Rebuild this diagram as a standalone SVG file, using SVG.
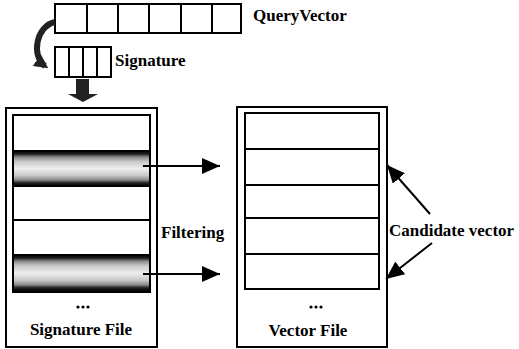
<svg xmlns="http://www.w3.org/2000/svg" width="519" height="349" viewBox="0 0 519 349">
<defs>
<style>
.box{fill:#fff;stroke:#000;stroke-width:2}
.ln{stroke:#000;stroke-width:2;fill:none}
.t{font-family:'Liberation Serif','DejaVu Serif','Times New Roman',serif;font-weight:bold;font-size:17px;fill:#000}
.dot{fill:#000}
</style>
<linearGradient id="shade" x1="0" y1="0" x2="0" y2="1">
<stop offset="0" stop-color="#000"/>
<stop offset="0.09" stop-color="#222"/>
<stop offset="0.17" stop-color="#888"/>
<stop offset="0.3" stop-color="#c8c8c8"/>
<stop offset="0.5" stop-color="#eeeeee"/>
<stop offset="0.7" stop-color="#c8c8c8"/>
<stop offset="0.83" stop-color="#888"/>
<stop offset="0.91" stop-color="#222"/>
<stop offset="1" stop-color="#000"/>
</linearGradient>
<marker id="ah" viewBox="0 0 18 16" refX="18" refY="8" markerWidth="18" markerHeight="16" markerUnits="userSpaceOnUse" orient="auto">
<path d="M0,0 L18,8 L0,16 z" fill="#000"/>
</marker>
<marker id="ahc" viewBox="0 0 14 14" refX="10" refY="7" markerWidth="14" markerHeight="14" markerUnits="userSpaceOnUse" orient="auto">
<path d="M0,0 L14,7 L0,14 z" fill="#222"/>
</marker>
</defs>
<g id="query-vector">
<rect class="box" x="55" y="4" width="186" height="29"/>
<path class="ln" d="M87 4V33M118 4V33M149 4V33M181 4V33M212 4V33"/>
<text class="t" x="253" y="21">QueryVector</text>
</g>
<g id="signature">
<rect class="box" x="55" y="47" width="56" height="30"/>
<path class="ln" d="M69 47V77M83 47V77M97 47V77"/>
<text class="t" x="115" y="66">Signature</text>
</g>
<g id="signature-file">
<rect class="box" x="6" y="108" width="151" height="239"/>
<rect class="box" x="13" y="115" width="137" height="177"/>
<rect x="14" y="151" width="135" height="35" fill="url(#shade)"/>
<rect x="14" y="255" width="135" height="36" fill="url(#shade)"/>
<path class="ln" d="M13 151H150M13 186H150M13 220H150M13 255H150"/>
<circle class="dot" cx="78" cy="307" r="1.6"/>
<circle class="dot" cx="83" cy="307" r="1.6"/>
<circle class="dot" cx="88" cy="307" r="1.6"/>
<text class="t" x="81" y="335" text-anchor="middle">Signature File</text>
</g>
<g id="vector-file">
<rect class="box" x="237" y="107" width="150" height="240"/>
<rect class="box" x="245" y="113" width="134" height="176"/>
<path class="ln" d="M245 149H379M245 185H379M245 218H379M245 254H379"/>
<circle class="dot" cx="311" cy="307" r="1.6"/>
<circle class="dot" cx="316" cy="307" r="1.6"/>
<circle class="dot" cx="321" cy="307" r="1.6"/>
<text class="t" x="308" y="336" text-anchor="middle">Vector File</text>
</g>
<g id="labels">
<text class="t" x="161" y="238">Filtering</text>
<text class="t" x="389" y="236">Candidate vector</text>
</g>
<g id="connectors">
<path d="M55 22 C36 26, 31 56, 45 66" stroke="#222" stroke-width="6" fill="none" marker-end="url(#ahc)"/>
<polygon points="76,79 89,79 89,94 98,94 83,102 68,94 76,94" fill="#222"/>
<line class="ln" x1="143" y1="166" x2="220" y2="166" marker-end="url(#ah)"/>
<line class="ln" x1="143" y1="274" x2="220" y2="274" marker-end="url(#ah)"/>
<line class="ln" x1="430" y1="214" x2="387" y2="165" marker-end="url(#ah)"/>
<line class="ln" x1="432" y1="243" x2="386" y2="279" marker-end="url(#ah)"/>
</g>
</svg>
